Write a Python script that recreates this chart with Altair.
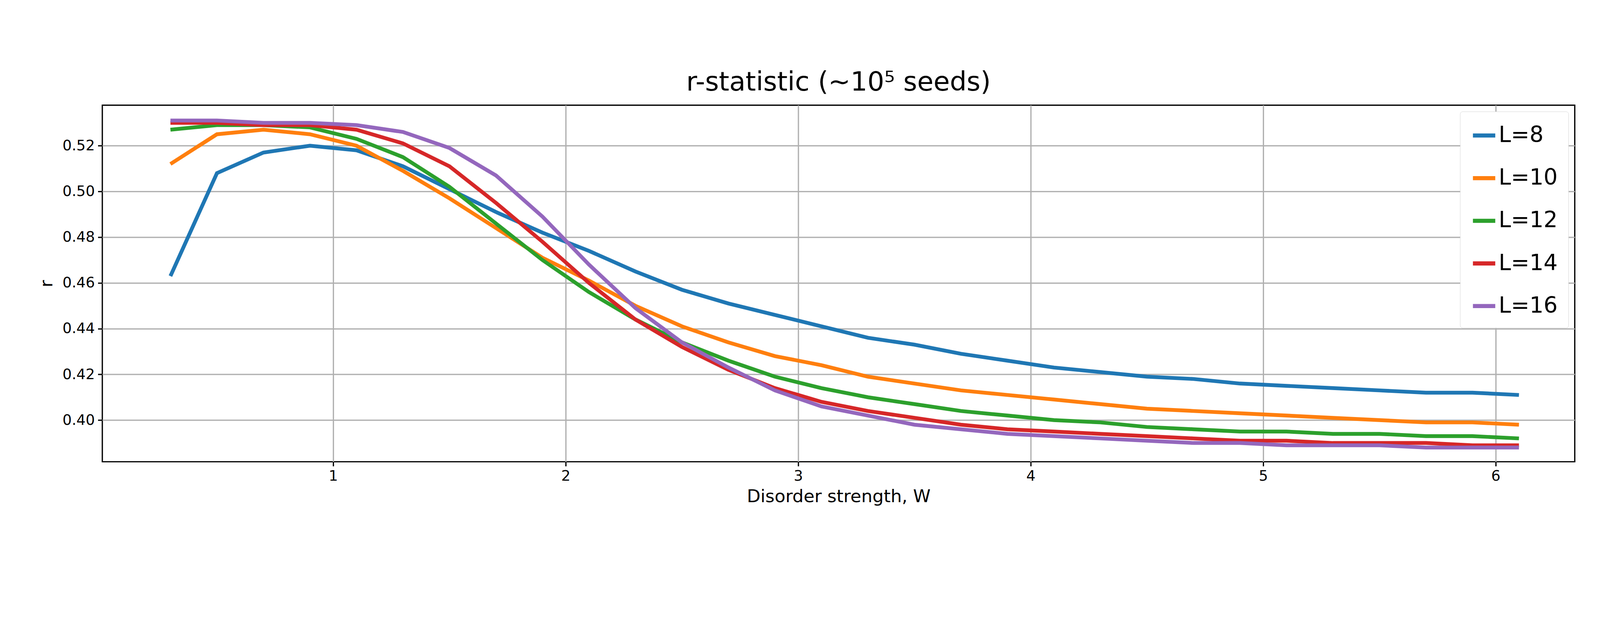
import pandas as pd
import altair as alt

W = [round(0.3 + 0.2 * i, 1) for i in range(30)]

r_L8 = [0.463, 0.508, 0.517, 0.520, 0.518, 0.511, 0.501, 0.491, 0.482, 0.474,
        0.465, 0.457, 0.451, 0.446, 0.441, 0.436, 0.433, 0.429, 0.426, 0.423,
        0.421, 0.419, 0.418, 0.416, 0.415, 0.414, 0.413, 0.412, 0.412, 0.411]
r_L10 = [0.512, 0.525, 0.527, 0.525, 0.520, 0.509, 0.497, 0.484, 0.471, 0.461,
         0.450, 0.441, 0.434, 0.428, 0.424, 0.419, 0.416, 0.413, 0.411, 0.409,
         0.407, 0.405, 0.404, 0.403, 0.402, 0.401, 0.400, 0.399, 0.399, 0.398]
r_L12 = [0.527, 0.529, 0.529, 0.528, 0.523, 0.515, 0.502, 0.486, 0.470, 0.456,
         0.444, 0.434, 0.426, 0.419, 0.414, 0.410, 0.407, 0.404, 0.402, 0.400,
         0.399, 0.397, 0.396, 0.395, 0.395, 0.394, 0.394, 0.393, 0.393, 0.392]
r_L14 = [0.530, 0.530, 0.529, 0.529, 0.527, 0.521, 0.511, 0.495, 0.478, 0.460,
         0.444, 0.432, 0.422, 0.414, 0.408, 0.404, 0.401, 0.398, 0.396, 0.395,
         0.394, 0.393, 0.392, 0.391, 0.391, 0.390, 0.390, 0.390, 0.389, 0.389]
r_L16 = [0.531, 0.531, 0.530, 0.530, 0.529, 0.526, 0.519, 0.507, 0.489, 0.468,
         0.449, 0.434, 0.423, 0.413, 0.406, 0.402, 0.398, 0.396, 0.394, 0.393,
         0.392, 0.391, 0.390, 0.390, 0.389, 0.389, 0.389, 0.388, 0.388, 0.388]

labels = ["L=8", "L=10", "L=12", "L=14", "L=16"]
colors = ["#1f77b4", "#ff7f0e", "#2ca02c", "#d62728", "#9467bd"]
series = [r_L8, r_L10, r_L12, r_L14, r_L16]

rows = []
for lab, vals in zip(labels, series):
    for w, v in zip(W, vals):
        rows.append({"W": w, "r": v, "L": lab})
df = pd.DataFrame(rows)

chart = alt.Chart(df).mark_line(strokeWidth=12, clip=True).encode(
    x=alt.X("W:Q", title="Disorder strength, W",
            scale=alt.Scale(domain=[0.007, 6.34], nice=False, zero=False),
            axis=alt.Axis(values=[1, 2, 3, 4, 5, 6], format="d")),
    y=alt.Y("r:Q", title="r",
            scale=alt.Scale(domain=[0.3818, 0.5377], nice=False, zero=False),
            axis=alt.Axis(values=[0.40, 0.42, 0.44, 0.46, 0.48, 0.50, 0.52], format=".2f")),
    color=alt.Color("L:N", scale=alt.Scale(domain=labels, range=colors),
                    legend=alt.Legend(title=None, orient="top-right", labelFontSize=70,
                                      symbolType="stroke", symbolSize=5000, symbolStrokeWidth=13,
                                      rowPadding=58, padding=34, offset=20,
                                      fillColor="white", strokeColor="#cccccc",
                                      cornerRadius=8, labelLimit=400)),
    order=alt.Order("W:Q"),
).properties(
    width=5045, height=1440,
    autosize=alt.AutoSizeParams(type="fit", contains="padding"),
    padding={"left": 110, "top": 40, "right": 70, "bottom": 20},
    title=alt.TitleParams(text="r-statistic (∼10⁵ seeds)", fontSize=84,
                          fontWeight="normal", offset=28),
).configure(
    font="DejaVu Sans",
).configure_view(
    stroke="black", strokeWidth=4,
).configure_axis(
    labelFontSize=46, titleFontSize=56, titleFontWeight="normal",
    grid=True, gridColor="#b0b0b0", gridWidth=4,
    domain=False, tickColor="black", tickWidth=4, tickSize=14,
    labelColor="black", titleColor="black", labelPadding=10,
).configure_axisY(titlePadding=20).configure_axisX(titlePadding=14)

chart.save("out.html", embed_options={"renderer": "svg", "actions": False})
